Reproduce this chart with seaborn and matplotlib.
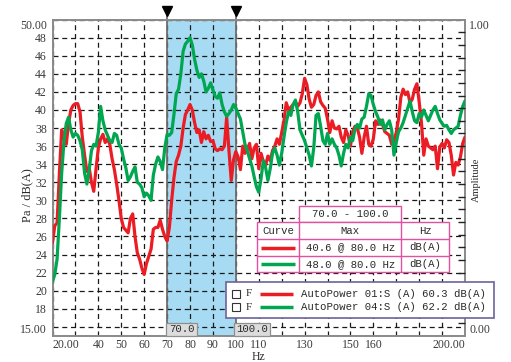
import numpy as np
import pandas as pd
import seaborn as sns
import matplotlib
matplotlib.use("Agg")
import matplotlib.pyplot as plt
from matplotlib.patches import Rectangle
from matplotlib.lines import Line2D
from matplotlib.ticker import MultipleLocator
import matplotlib.transforms as mtransforms

# ---------------- data ----------------
freq = list(range(20, 201))

red_01 = [
    25.3, 27.2, 27.5, 33.0, 37.8, 36.8, 36.2, 38.5, 40.0, 40.5,
    40.7, 40.7, 39.8, 37.0, 35.0, 33.2, 33.6, 32.0, 31.0, 33.5,
    35.8, 36.8, 37.3, 36.4, 36.8, 36.2, 34.6, 33.4, 31.8, 30.0,
    28.0, 27.0, 26.7, 26.4, 28.0, 28.5, 26.0, 24.2, 23.5, 22.5,
    21.8, 23.0, 23.8, 24.6, 26.8, 27.0, 27.0, 27.8, 26.8, 26.0,
    25.5, 27.0, 30.0, 32.5, 34.3, 35.0, 36.0, 38.0, 39.5, 40.0,
    40.6, 40.0, 38.6, 37.5, 37.8, 36.4, 37.6, 36.8, 37.2, 36.5,
    36.6, 35.7, 35.5, 35.7, 35.6, 36.0, 39.2, 35.5, 32.2, 34.5,
    35.4, 34.8, 33.4, 36.0, 35.2, 35.6, 36.3, 34.6, 35.8, 36.2,
    33.5, 35.2, 34.3, 33.9, 34.9, 34.4, 35.5, 36.0, 36.8, 36.2,
    37.5, 38.8, 40.8, 40.0, 40.3, 40.6, 40.9, 40.4, 40.8, 41.8,
    43.5, 42.8, 41.2, 40.3, 40.6, 41.6, 42.0, 40.9, 40.5, 40.2,
    39.0, 37.5, 38.8, 38.0, 37.9, 38.2, 37.0, 36.4, 37.8, 37.2,
    36.0, 37.6, 38.2, 38.0, 37.0, 35.2, 37.0, 38.2, 36.2, 36.0,
    36.8, 38.8, 38.4, 38.9, 38.4, 37.6, 37.4, 37.2, 36.2, 36.6,
    37.5, 39.0, 41.4, 42.3, 41.7, 42.0, 40.8, 41.2, 42.3, 42.9,
    40.9, 38.6, 35.0, 36.8, 36.0, 35.8, 35.6, 36.0, 33.5, 35.9,
    36.3, 35.8, 36.7, 36.4, 35.0, 32.8, 34.2, 33.9, 34.8, 36.3, 37.0]

green_04 = [
    21.0, 21.8, 23.5, 28.0, 33.0, 36.5, 38.5, 39.2, 37.8, 37.0,
    37.4, 37.2, 36.6, 35.6, 33.0, 31.8, 33.4, 35.5, 36.2, 36.0,
    37.5, 40.4, 38.8, 37.8, 37.2, 36.6, 36.4, 37.4, 37.2, 36.2,
    35.8, 34.6, 33.6, 32.2, 32.6, 33.2, 33.7, 32.0, 31.8, 31.4,
    30.4, 30.8, 30.5, 30.0, 32.8, 34.0, 34.8, 34.3, 33.4, 35.8,
    37.3, 37.2, 37.5, 39.5, 41.8, 42.3, 44.0, 46.5, 47.3, 47.6,
    48.0, 47.2, 45.6, 44.4, 43.6, 44.0, 43.2, 42.0, 42.4, 43.0,
    42.2, 41.5, 41.3, 41.9, 40.6, 39.8, 39.3, 39.6, 40.0, 40.6,
    40.2, 39.6, 39.0, 37.6, 36.2, 35.5, 34.6, 33.8, 32.6, 31.5,
    30.9, 32.4, 34.4, 33.6, 32.2, 33.5, 35.2, 35.8, 35.0, 33.9,
    35.2, 37.0, 38.6, 39.8, 39.4, 40.6, 41.1, 39.8, 37.8, 37.2,
    36.6, 35.8, 35.0, 33.8, 35.8, 39.4, 39.6, 38.2, 36.6, 36.2,
    37.4, 36.2, 36.8, 36.2, 35.8, 35.0, 33.8, 35.2, 36.2, 35.8,
    37.0, 36.6, 37.9, 38.4, 38.0, 39.0, 39.2, 40.4, 41.8, 41.6,
    40.6, 39.8, 39.2, 38.4, 38.9, 37.8, 38.4, 38.8, 37.8, 35.0,
    36.4, 37.6, 38.0, 38.6, 39.4, 40.2, 41.0, 39.8, 38.8, 38.6,
    39.6, 39.2, 40.0, 39.4, 38.8, 39.4, 40.0, 40.4, 39.6, 38.9,
    38.5, 38.2, 38.3, 37.8, 37.4, 37.8, 38.0, 38.2, 39.4, 40.4, 41.0]

curve_names = ["AutoPower 01:S (A)", "AutoPower 04:S (A)"]
curve_totals = ["60.3 dB(A)", "62.2 dB(A)"]
band = [70.0, 100.0]
band_max = ["40.6 @ 80.0 Hz", "48.0 @ 80.0 Hz"]

x_tick_vals = list(range(20, 201, 10))
x_tick_shown = {20: "20.00", 40: "40", 50: "50", 60: "60", 70: "70", 80: "80",
                90: "90", 100: "100", 110: "110", 130: "130", 150: "150",
                160: "160", 200: "200.00"}
y_tick_vals = [15, 16] + list(range(18, 49, 2)) + [50]

RED = "#ec1c24"
GREEN = "#00a650"
BLUE = "#a6dbf3"

# ---------------- figure ----------------
W, H = 511, 362
fig = plt.figure(figsize=(W / 100, H / 100), dpi=100)
sns.set_style("white")
plt.rcParams["font.family"] = ["Liberation Serif", "DejaVu Serif"]

L, R, T, B = 52.5, 465.0, 19.6, 335.9
ax = fig.add_axes([L / W, 1 - B / H, (R - L) / W, (B - T) / H])

df = pd.DataFrame({
    "Hz": freq + freq,
    "dB": red_01 + green_04,
    "curve": ["01"] * len(freq) + ["04"] * len(freq),
})
sns.lineplot(data=df, x="Hz", y="dB", hue="curve",
             palette={"01": RED, "04": GREEN}, linewidth=2.3,
             legend=False, estimator=None, ax=ax, zorder=3)

ax.set_xlim(20, 200)
ax.set_ylim(15, 50)
ax.set_xlabel("")
ax.set_ylabel("")

ax.axvspan(band[0], band[1], color=BLUE, lw=0, zorder=0.2)
ax.set_axisbelow(True)
ax.grid(True, color="#1a1a1a", linestyle=(0, (4, 3)), linewidth=0.9)

for s in ax.spines.values():
    s.set_color("#8a8a8a")
    s.set_linewidth(1.4)

# cursors
trans = mtransforms.blended_transform_factory(ax.transData, ax.transAxes)
for b in band:
    ax.axvline(b, color="#6e6e6e", lw=1.3, zorder=1.5)
    ax.plot([b, b], [1.0, 1.02], color="#6e6e6e", lw=1.3, transform=trans,
            clip_on=False)
ax.plot(band, [1.026, 1.026], ls="none", marker="v", color="k",
        markersize=6.5, transform=trans, clip_on=False)

# x ticks
ax.set_xticks(x_tick_vals)
ax.set_xticklabels([x_tick_shown.get(v, "") for v in x_tick_vals])
ax.tick_params(axis="x", length=0, pad=2, labelsize=8.5, labelcolor="#3a3a3a")
xl = ax.get_xticklabels()
xl[0].set_ha("left")
xl[-1].set_ha("right")

# y ticks
ylabels = []
for v in y_tick_vals:
    if v == 15:
        ylabels.append("15.00")
    elif v == 50:
        ylabels.append("50.00")
    elif v == 16:
        ylabels.append("")
    else:
        ylabels.append(str(v))
ax.set_yticks(y_tick_vals)
ax.set_yticklabels(ylabels)
ax.tick_params(axis="y", length=0, pad=4, labelsize=8.5, labelcolor="#3a3a3a")
yl = ax.get_yticklabels()
yl[0].set_va("bottom")
yl[-1].set_va("top")
ax.set_yticks([20, 30, 40], minor=True)
ax.tick_params(axis="y", which="minor", direction="in", length=5, width=1.2,
               color="#333333", left=True)

# right amplitude axis
ax2 = ax.twinx()
ax2.set_ylim(0, 1)
ax2.set_yticks([0, 1])
ax2.set_yticklabels(["0.00", "1.00"])
ax2.tick_params(axis="y", length=0, pad=3, labelsize=8.5, labelcolor="#3a3a3a")
r = ax2.get_yticklabels()
r[0].set_va("bottom")
r[1].set_va("top")
ax2.yaxis.set_minor_locator(MultipleLocator(0.04))
ax2.tick_params(axis="y", which="minor", direction="in", length=5, width=1.0,
                color="#222222")
for s in ax2.spines.values():
    s.set_visible(False)

# ---------------- helpers in pixel space ----------------
def fx(x):
    return x / W

def fy(y):
    return 1 - y / H

def rect(x0, y0, x1, y1, fc="white", ec="k", lw=1.0, z=5):
    fig.add_artist(Rectangle((fx(x0), fy(y1)), (x1 - x0) / W, (y1 - y0) / H,
                             transform=fig.transFigure, facecolor=fc,
                             edgecolor=ec, linewidth=lw, zorder=z))

def hline(x0, x1, y, color, lw=1.0, z=6):
    fig.add_artist(Line2D([fx(x0), fx(x1)], [fy(y), fy(y)],
                          transform=fig.transFigure, color=color, lw=lw,
                          zorder=z, solid_capstyle="butt"))

def vline(x, y0, y1, color, lw=1.0, z=6):
    fig.add_artist(Line2D([fx(x), fx(x)], [fy(y0), fy(y1)],
                          transform=fig.transFigure, color=color, lw=lw,
                          zorder=z))

def txt(x, y, s, ha="center", size=7.7, fam="Liberation Mono", **kw):
    fig.text(fx(x), fy(y), s, ha=ha, va="center", fontsize=size,
             family=fam, color="#2a2a2a", zorder=7, **kw)

# axis titles
txt(27, 195, "Pa / dB(A)", size=9, fam="Liberation Serif", rotation=90)
txt(258, 356.5, "Hz", size=8.5, fam="Liberation Serif")
txt(476, 180, "Amplitude", size=7.5, fam="Liberation Serif", rotation=90)

# band table
PINK = "#e0519f"
rect(299, 206, 401, 222, ec=PINK)
txt(350, 214, "%.1f - %.1f" % (band[0], band[1]))
rect(257, 222, 449, 272, ec=PINK)
for yy in (239, 256):
    hline(257, 449, yy, PINK)
for xx in (299, 401):
    vline(xx, 222, 272, PINK)
txt(278, 231, "Curve")
txt(350, 231, "Max")
txt(425, 231, "Hz")
for i, (c, m) in enumerate(zip([RED, GREEN], band_max)):
    yy = 247.5 + 16.7 * i
    hline(261, 295, yy, c, lw=2.5)
    txt(351, yy, m)
    txt(425, yy, "dB(A)")

# legend box
rect(226, 282, 494, 318, ec="#6a6399", lw=1.2)
for i, (c, n, t) in enumerate(zip([RED, GREEN], curve_names, curve_totals)):
    yy = 294 + 13 * i
    rect(232, yy - 4, 240, yy + 4, ec="#333333", lw=0.8, z=6)
    txt(246, yy, "F", ha="left", size=8, fam="Liberation Serif")
    hline(260, 293, yy, c, lw=2.5)
    txt(301, yy, "%s %s" % (n, t), ha="left")

# cursor value boxes
rect(166, 322.5, 197, 335.5, fc="#dcdcdc", ec="#8f8f8f", lw=0.9)
txt(181.5, 329, "%.1f" % band[0])
rect(234, 322.5, 270, 335.5, fc="#dcdcdc", ec="#8f8f8f", lw=0.9)
txt(252, 329, "%.1f" % band[1])

fig.savefig("out.png", dpi=100)
